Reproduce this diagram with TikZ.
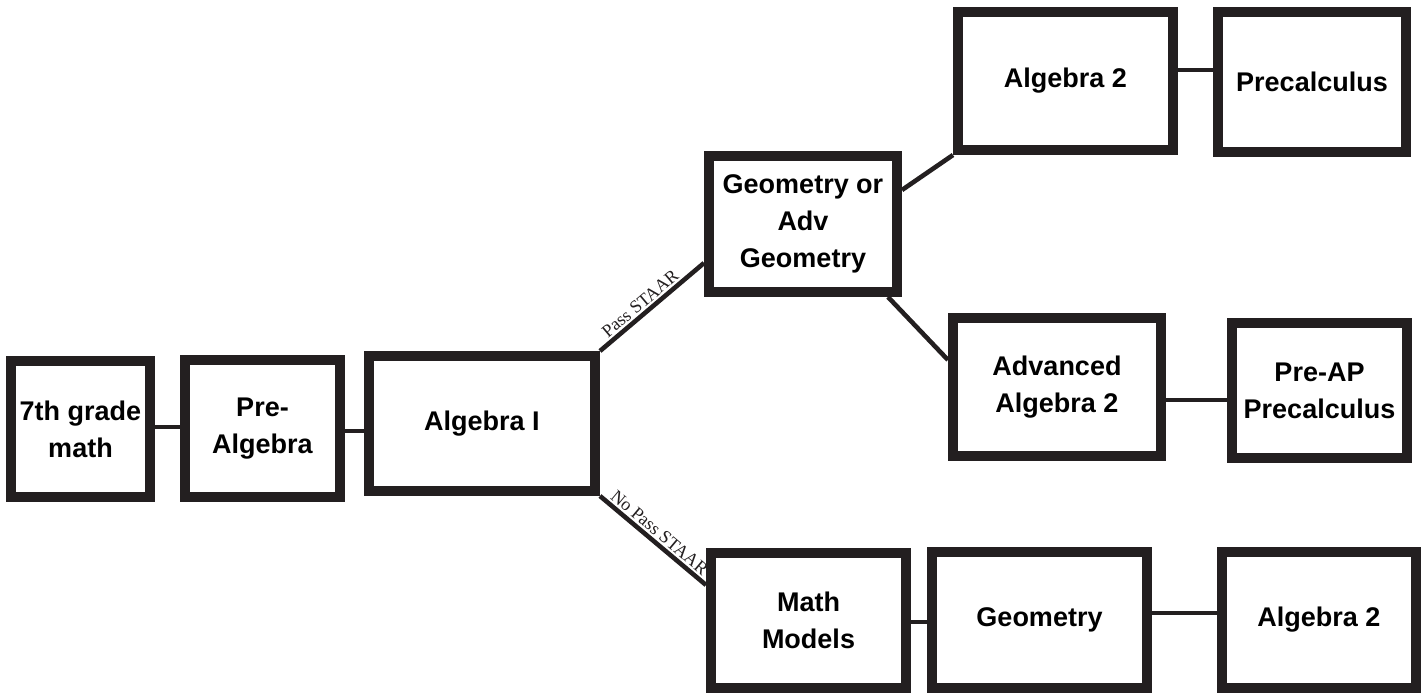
\documentclass[tikz,border=0pt]{standalone}
\usepackage{fontspec}
\setmainfont{Liberation Sans}
\newfontfamily\staarfont{Liberation Serif}
\usepackage{tikz}
\usetikzlibrary{positioning}
\definecolor{boxblack}{RGB}{35,31,32}
\tikzstyle{course} = [rectangle, draw=boxblack, line width=5pt, fill=white, text centered, align=center, inner sep=0pt, font=\bfseries\fontsize{13.5}{18.5}\selectfont]
\tikzstyle{link} = [line width=2.3pt, color=boxblack]
\tikzstyle{staar} = [font=\staarfont\fontsize{9}{10}\selectfont, sloped, above, inner sep=1pt]

\begin{document}
\begin{tikzpicture}[x=0.5pt, y=-0.5pt]
\useasboundingbox (0,0) rectangle (1426,694);
% Course boxes
\node (m7) [course, minimum width=69.5pt, minimum height=68pt] at (80.5,429) {7th grade\\math};
\node (prealg) [course, minimum width=77.5pt, minimum height=68.5pt] at (262.5,428.5) {Pre-\\Algebra};
\node (alg1) [course, minimum width=113pt, minimum height=67.5pt] at (482,423.5) {Algebra I};
\node (geo) [course, minimum width=94pt, minimum height=68pt] at (803,224) {Geometry or\\Adv\\Geometry};
\node (alg2) [course, minimum width=107.5pt, minimum height=69pt] at (1065.5,81) {Algebra 2};
\node (precalc) [course, minimum width=94pt, minimum height=70pt] at (1312,82) {Precalculus};
\node (advalg) [course, minimum width=104pt, minimum height=69pt] at (1057,387) {Advanced\\Algebra 2};
\node (preap) [course, minimum width=87.5pt, minimum height=67.5pt] at (1319.5,390.5) {Pre-AP\\Precalculus};
\node (models) [course, minimum width=97.5pt, minimum height=67.5pt] at (808.5,620.5) {Math\\Models};
\node (geo2) [course, minimum width=107.5pt, minimum height=68pt] at (1039.5,620) {Geometry};
\node (alg2b) [course, minimum width=97pt, minimum height=68pt] at (1319,620) {Algebra 2};

% Straight links
\draw[link] ([yshift=1pt]m7.east) -- ([yshift=1pt]m7.east -| prealg.west);
\draw[link] ([yshift=-1.25pt]prealg.east) -- ([yshift=-1.25pt]prealg.east -| alg1.west);
\draw[link] ([yshift=5.5pt]alg2.east) -- ([yshift=5.5pt]alg2.east -| precalc.west);
\draw[link] ([yshift=-6.5pt]advalg.east) -- ([yshift=-6.5pt]advalg.east -| preap.west);
\draw[link] ([yshift=-0.75pt]models.east) -- ([yshift=-0.75pt]models.east -| geo2.west);
\draw[link] ([yshift=3.5pt]geo2.east) -- ([yshift=3.5pt]geo2.east -| alg2b.west);

% Branches
\draw[link] (alg1.north east) -- node[staar, pos=0.45] {Pass STAAR} ([yshift=-19.5pt]geo.west);
\draw[link] (alg1.south east) -- node[staar, pos=0.5] {No Pass STAAR} ([yshift=17.75pt]models.west);
\draw[link] ([yshift=17pt]geo.east) -- (alg2.south west);
\draw[link] ([xshift=-7pt]geo.south east) -- ([yshift=13.5pt]advalg.west);
\end{tikzpicture}
\end{document}
